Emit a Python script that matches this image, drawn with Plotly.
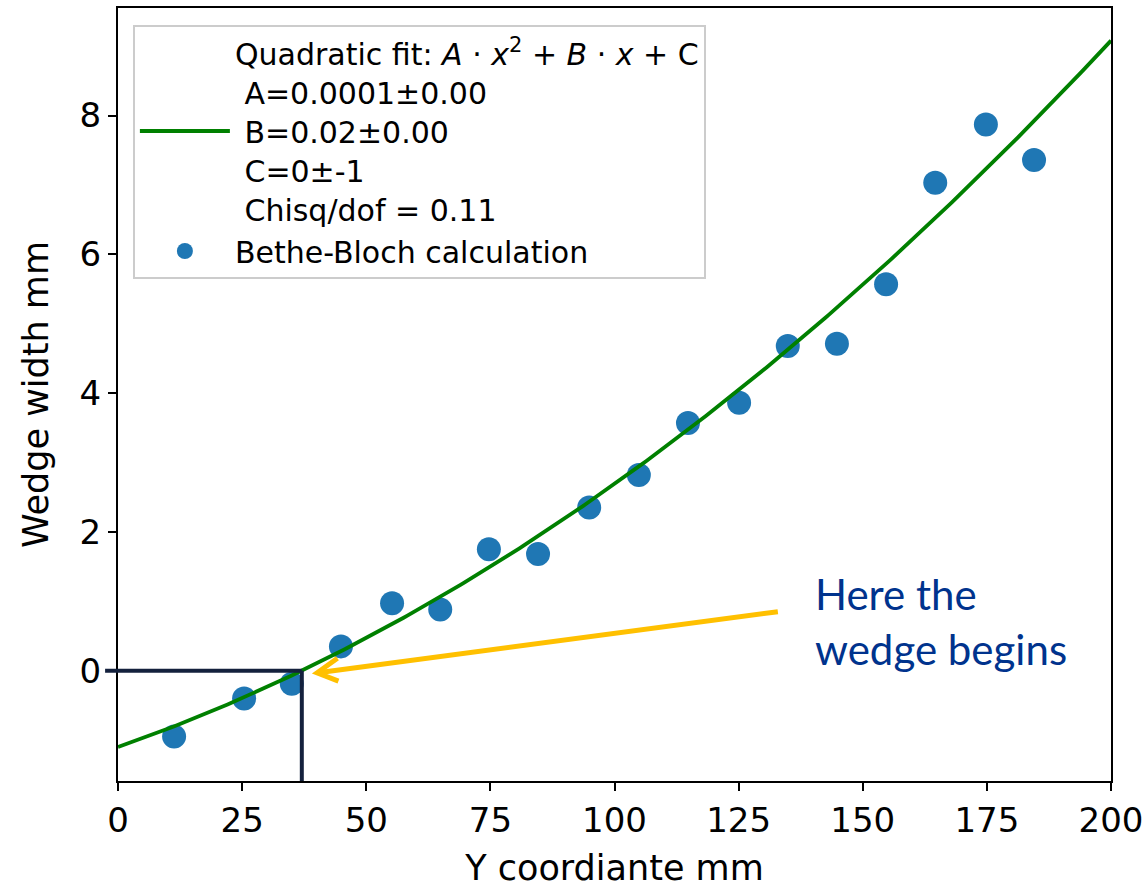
import numpy as np
import plotly.graph_objects as go

# Bethe-Bloch calculation points
y_coord_mm = [11.3, 25.4, 35.0, 44.9, 55.2, 64.9, 74.7, 84.6, 94.9, 104.9,
              114.8, 125.1, 134.9, 144.8, 154.7, 164.6, 174.8, 184.5]
wedge_width_mm = [-0.95, -0.40, -0.19, 0.35, 0.97, 0.88, 1.75, 1.68, 2.35, 2.82,
                  3.57, 3.86, 4.68, 4.71, 5.57, 7.03, 7.87, 7.36]

# Quadratic fit coefficients: A*x^2 + B*x + C
fit_A = 1.30e-4
fit_B = 0.0249
fit_C = -1.10

x_tick_vals = [0, 25, 50, 75, 100, 125, 150, 175, 200]
y_tick_vals = [0, 2, 4, 6, 8]

X_RANGE = [0, 200]
Y_RANGE = [-1.59, 9.55]

x_fit = np.linspace(X_RANGE[0], X_RANGE[1], 300)
y_fit = fit_A * x_fit**2 + fit_B * x_fit + fit_C

# where the fitted curve crosses zero (start of the wedge)
x_zero = (-fit_B + np.sqrt(fit_B**2 - 4 * fit_A * fit_C)) / (2 * fit_A)
x_zero_paper = (x_zero - X_RANGE[0]) / (X_RANGE[1] - X_RANGE[0])

fit_label = ("Quadratic fit: <i>A</i> \u00b7 <i>x</i><sup>2</sup> + <i>B</i> \u00b7 <i>x</i> + C<br>"
             " A=0.0001\u00b10.00<br>"
             " B=0.02\u00b10.00<br>"
             " C=0\u00b1-1<br>"
             " Chisq/dof = 0.11")

fig = go.Figure()
fig.add_trace(go.Scatter(
    x=y_coord_mm, y=wedge_width_mm, mode="markers",
    marker=dict(color="#1f77b4", size=24),
    name="Bethe-Bloch calculation", legendrank=2,
))
fig.add_trace(go.Scatter(
    x=x_fit, y=y_fit, mode="lines",
    line=dict(color="#008000", width=3.8),
    name=fit_label, legendrank=1,
))

navy = "#14213d"
shapes = [
    # horizontal guide at zero, reaching slightly past the y axis
    dict(type="line", xref="paper", yref="y", x0=-0.013, x1=x_zero_paper, y0=0, y1=0,
         line=dict(color=navy, width=4), layer="above"),
    # vertical guide down to the x axis
    dict(type="line", xref="paper", yref="y", x0=x_zero_paper, x1=x_zero_paper,
         y0=0, y1=Y_RANGE[0], line=dict(color=navy, width=4), layer="above"),
    # yellow arrow shaft
    dict(type="line", xref="x", yref="y", x0=132.9, y0=0.85, x1=40.3, y1=-0.03,
         line=dict(color="#FFC000", width=5), layer="above"),
    # arrow head chevron
    dict(type="path", xref="x", yref="y",
         path="M 44.2 0.18 L 40.1 -0.03 L 44.4 -0.15",
         line=dict(color="#FFC000", width=5), layer="above"),
]

fig.update_layout(
    width=1146, height=888,
    margin=dict(l=118, r=35, t=8, b=107),
    paper_bgcolor="white", plot_bgcolor="white",
    font=dict(family="DejaVu Sans", size=34, color="black"),
    showlegend=True,
    legend=dict(
        x=0.015, y=0.978, xanchor="left", yanchor="top",
        bgcolor="white", bordercolor="#cccccc", borderwidth=2,
        font=dict(family="DejaVu Sans", size=30, color="black"),
        itemwidth=90, tracegroupgap=0,
    ),
    shapes=shapes,
    annotations=[
        dict(text="Here the<br>wedge begins", xref="paper", yref="paper",
             x=0.7, y=0.277, xanchor="left", yanchor="top", align="left",
             showarrow=False,
             font=dict(family="Lato", size=42, color="#00338D")),
    ],
)

fig.update_xaxes(
    range=X_RANGE, tickvals=x_tick_vals, automargin=False,
    ticklabeloverflow="allow",
    title=dict(text="Y coordiante mm", font=dict(size=35), standoff=25),
    showline=True, linecolor="black", linewidth=2, mirror=True,
    ticks="outside", ticklen=8, tickwidth=2, tickcolor="black",
    showgrid=False, zeroline=False, tickfont=dict(size=34),
)
fig.update_yaxes(
    range=Y_RANGE, tickvals=y_tick_vals, automargin=False,
    title=dict(text="Wedge width mm", font=dict(size=35), standoff=20),
    showline=True, linecolor="black", linewidth=2, mirror=True,
    ticks="outside", ticklen=8, tickwidth=2, tickcolor="black",
    showgrid=False, zeroline=False, tickfont=dict(size=34),
)

fig.write_html("out.html")
